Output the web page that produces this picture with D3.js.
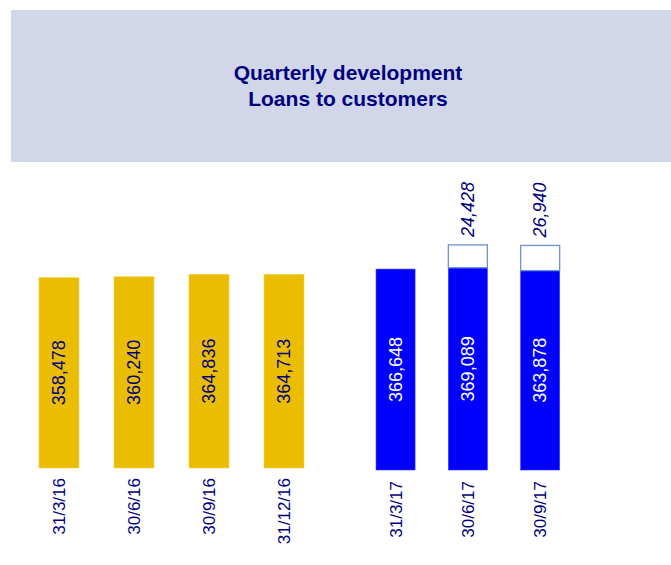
<!DOCTYPE html>
<html>
<head>
<meta charset="utf-8">
<script src="https://cdn.jsdelivr.net/npm/d3@7"></script>
<style>
  body { margin: 0; background: #fff; }
  svg { display: block; font-family: Arial, "Liberation Sans", sans-serif; }
</style>
</head>
<body>
<div id="chart"></div>
<script>
// data
var titleLines = ["Quarterly development", "Loans to customers"];

var dates16 = ["31/3/16", "30/6/16", "30/9/16", "31/12/16"];
var loans16 = [358478, 360240, 364836, 364713];

var dates17 = ["31/3/17", "30/6/17", "30/9/17"];
var loans17 = [366648, 369089, 363878];
var extra17 = [null, 24428, 26940];   // white boxes on top

var width = 671, height = 565;
var fmt = d3.format(",");

var svg = d3.select("#chart").append("svg")
    .attr("width", width)
    .attr("height", height);

// title box
svg.append("rect")
    .attr("x", 11).attr("y", 10)
    .attr("width", 660).attr("height", 152)
    .attr("fill", "#d1d6e8");

svg.append("g").selectAll("text")
    .data(titleLines).enter()
    .append("text")
    .attr("x", 348)
    .attr("y", function (d, i) { return 80 + i * 26; })
    .attr("text-anchor", "middle")
    .attr("font-size", "21px")
    .attr("font-weight", "bold")
    .attr("fill", "#000080")
    .text(function (d) { return d; });

// ---- 2016 panel
var x16 = d3.scaleBand().domain(dates16).range([21.5, 321.5])
    .paddingInner(0.4667).paddingOuter(0.2333);
var y16 = d3.scaleLinear().domain([0, 400000]).range([468, 255.6]);

var g16 = svg.append("g");
g16.selectAll("rect")
    .data(loans16).enter()
    .append("rect")
    .attr("x", function (d, i) { return x16(dates16[i]); })
    .attr("y", function (d) { return y16(d); })
    .attr("width", x16.bandwidth())
    .attr("height", function (d) { return y16(0) - y16(d); })
    .attr("fill", "#ebbd00")
    .attr("stroke", "#f5d24a")
    .attr("stroke-width", 0.6);

g16.selectAll("text.val")
    .data(loans16).enter()
    .append("text")
    .attr("class", "val")
    .attr("transform", function (d, i) {
        return "translate(" + (x16(dates16[i]) + x16.bandwidth() / 2) + "," + ((y16(d) + y16(0)) / 2) + ")rotate(-90)";
    })
    .attr("dy", "0.35em")
    .attr("text-anchor", "middle")
    .attr("font-size", "18px")
    .attr("fill", "#000080")
    .text(function (d) { return fmt(d); });

g16.selectAll("text.cat")
    .data(dates16).enter()
    .append("text")
    .attr("class", "cat")
    .attr("transform", function (d) {
        return "translate(" + (x16(d) + x16.bandwidth() / 2) + "," + (y16(0) + 10) + ")rotate(-90)";
    })
    .attr("dy", "0.35em")
    .attr("text-anchor", "end")
    .attr("font-size", "17px")
    .attr("fill", "#000080")
    .text(function (d) { return d; });

// ---- 2017 panel
var x17 = d3.scaleBand().domain(dates17).range([359.4, 576.3])
    .paddingInner(0.46).paddingOuter(0.23);
var y17 = d3.scaleLinear().domain([0, 400000]).range([470, 250.8]);
var hBox = d3.scaleLinear().domain([0, 30000]).range([0, 28]);

var g17 = svg.append("g");
g17.selectAll("rect.bar")
    .data(loans17).enter()
    .append("rect")
    .attr("class", "bar")
    .attr("x", function (d, i) { return x17(dates17[i]); })
    .attr("y", function (d) { return y17(d); })
    .attr("width", x17.bandwidth())
    .attr("height", function (d) { return y17(0) - y17(d); })
    .attr("fill", "#0000ff")
    .attr("stroke", "#3a3af5")
    .attr("stroke-width", 0.6);

var boxes = extra17.map(function (v, i) { return { v: v, i: i }; })
    .filter(function (d) { return d.v != null; });

g17.selectAll("rect.box")
    .data(boxes).enter()
    .append("rect")
    .attr("class", "box")
    .attr("x", function (d) { return x17(dates17[d.i]); })
    .attr("y", function (d) { return y17(loans17[d.i]) - hBox(d.v); })
    .attr("width", x17.bandwidth())
    .attr("height", function (d) { return hBox(d.v); })
    .attr("fill", "#fff")
    .attr("stroke", "#6a93cf")
    .attr("stroke-width", 1.3);

g17.selectAll("text.box")
    .data(boxes).enter()
    .append("text")
    .attr("class", "box")
    .attr("transform", function (d) {
        return "translate(" + (x17(dates17[d.i]) + x17.bandwidth() / 2) + "," + (y17(loans17[d.i]) - hBox(d.v) - 8) + ")rotate(-90)";
    })
    .attr("dy", "0.35em")
    .attr("text-anchor", "start")
    .attr("font-size", "18px")
    .attr("font-style", "italic")
    .attr("fill", "#000080")
    .text(function (d) { return fmt(d.v); });

g17.selectAll("text.val")
    .data(loans17).enter()
    .append("text")
    .attr("class", "val")
    .attr("transform", function (d, i) {
        return "translate(" + (x17(dates17[i]) + x17.bandwidth() / 2) + "," + ((y17(d) + y17(0)) / 2) + ")rotate(-90)";
    })
    .attr("dy", "0.35em")
    .attr("text-anchor", "middle")
    .attr("font-size", "18px")
    .attr("fill", "#fff")
    .text(function (d) { return fmt(d); });

g17.selectAll("text.cat")
    .data(dates17).enter()
    .append("text")
    .attr("class", "cat")
    .attr("transform", function (d) {
        return "translate(" + (x17(d) + x17.bandwidth() / 2) + "," + (y17(0) + 11) + ")rotate(-90)";
    })
    .attr("dy", "0.35em")
    .attr("text-anchor", "end")
    .attr("font-size", "17px")
    .attr("fill", "#000080")
    .text(function (d) { return d; });
</script>
</body>
</html>
